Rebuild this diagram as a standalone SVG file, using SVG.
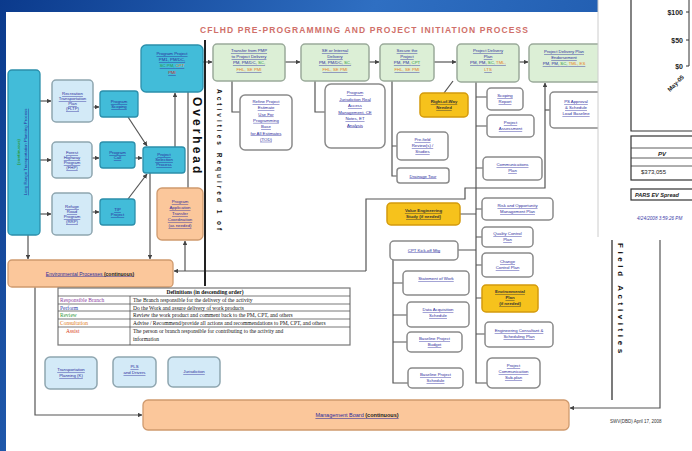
<svg xmlns="http://www.w3.org/2000/svg" width="692" height="451" viewBox="0 0 692 451">
<defs>
<linearGradient id="bg" x1="0" y1="0" x2="1" y2="0.3">
<stop offset="0" stop-color="#0b3a8c"/>
<stop offset="0.5" stop-color="#2f6fc2"/>
<stop offset="1" stop-color="#1b55a8"/>
</linearGradient>
<marker id="ah" viewBox="0 0 6 6" refX="5.5" refY="3" markerWidth="4" markerHeight="4" orient="auto">
<path d="M0,0 L6,3 L0,6 z" fill="#444"/>
</marker>
<style>
.teal{fill:#42bcd9;stroke:#2b8fab;stroke-width:1.3}
.lblue{fill:#d3eaf7;stroke:#8fa6b0;stroke-width:1.5}
.green{fill:#dcefd6;stroke:#9aaa9a;stroke-width:1.5}
.white{fill:#fff;stroke:#8a8a8a;stroke-width:1.5}
.orange{fill:#fbc79b;stroke:#cf9a6e;stroke-width:1.3}
.yellow{fill:#f6c21c;stroke:#d49b0c;stroke-width:1.5}
.t{font-family:'Liberation Sans',Arial,sans-serif;font-size:4.3px;fill:#2b2b9c;text-anchor:middle;text-decoration:underline}
.td{font-family:'Liberation Sans',Arial,sans-serif;font-size:4.3px;fill:#333;text-anchor:middle;text-decoration:underline;font-weight:bold}
.g{fill:#2f9a3a}.o{fill:#e8801a}.r{fill:#d02a2a}
.c{fill:none;stroke:#555;stroke-width:1.2}
.ca{fill:none;stroke:#555;stroke-width:1.2;marker-end:url(#ah)}
.vt{font-family:'Liberation Sans',Arial,sans-serif;font-weight:bold;fill:#111}
.df{font-family:'Liberation Serif','Times New Roman',serif;font-size:5.5px;fill:#111}
.ch{font-family:'Liberation Sans',Arial,sans-serif;font-weight:bold;fill:#222}
</style>
</defs>

<rect x="0" y="0" width="692" height="451" fill="url(#bg)"/>
<rect x="6" y="12" width="686" height="439" fill="#fff"/>

<text x="364" y="33" font-family="'Liberation Sans',Arial,sans-serif" font-size="8.5" font-weight="bold" fill="#d0706a" text-anchor="middle" textLength="328" lengthAdjust="spacing">CFLHD PRE-PROGRAMMING AND PROJECT INITIATION PROCESS</text>

<g id="connectors">
<path class="ca" d="M40,101 H51"/>
<path class="ca" d="M40,160 H51"/>
<path class="ca" d="M40,214 H51"/>
<path class="ca" d="M93,107 H99"/>
<path class="ca" d="M92,158 H99"/>
<path class="ca" d="M92,212 H99"/>
<path class="ca" d="M128,117 L147,146"/>
<path class="ca" d="M135,158 H142"/>
<path class="ca" d="M128,199 L147,174"/>
<path class="ca" d="M175,147 V93"/>
<path class="c" d="M188,92 V188"/>
<path class="ca" d="M150,173 V259"/>
<path class="ca" d="M28,235 V259"/>
<path class="ca" d="M35,287 V415 H142"/>
<path class="ca" d="M203,62 H212"/>
<path class="ca" d="M285,62 H300"/>
<path class="ca" d="M369,62 H379"/>
<path class="ca" d="M434,62 H456"/>
<path class="ca" d="M519,62 H528"/>
<path class="c" d="M232,81 V112 H240"/>
<path class="c" d="M315,81 V112 H325"/>
<path class="c" d="M392,81 V176 H397 M392,146 H397"/>
<path class="c" d="M453,81 L444,93"/>
<path class="c" d="M476,82 V383 H487 M476,97 H487 M476,126 H487 M476,168 H483 M476,209 H482 M476,237 H482 M476,265 H482 M476,298 H482 M476,334 H485"/>
<path class="c" d="M460,214 H476 M458,250 H476"/>
<path class="c" d="M393,260 V383 H408 M393,283 H403 M393,315 H407 M393,342 H407"/>
<path class="ca" d="M366,271 H174"/>
<path class="ca" d="M185,271 V241"/>
<path class="ca" d="M366,271 V199 H465 V188 H545 V83"/>
<path class="c" d="M545,110 H550"/>
<path class="ca" d="M660,240 V408 H570"/>
<path class="c" d="M612,240 V400" style="stroke:#222"/>
<path d="M205,40 V286" stroke="#222" stroke-width="2" fill="none"/>
</g>

<g id="n-left">
<rect class="teal" x="8" y="70" width="32" height="165" rx="4"/>
<text class="t" transform="translate(27,152) rotate(-90)">Long Range Transportation Planning Process</text>
<text class="t g" transform="translate(20,152) rotate(-90)" style="text-decoration:none;font-weight:bold">(continuous)</text>
</g>
<g id="n-a"><rect class="lblue" x="52" y="80" width="41" height="42" rx="4"/>
<text class="t" x="72.5" y="95">Recreation<tspan x="72.5" dy="5">Transportation</tspan><tspan x="72.5" dy="5">Plan</tspan><tspan x="72.5" dy="5">(FLTP)</tspan></text></g>
<g id="n-b"><rect class="lblue" x="52" y="142" width="40" height="36" rx="4"/>
<text class="t" x="72" y="154">Forest<tspan x="72" dy="5">Highway</tspan><tspan x="72" dy="5">Program</tspan><tspan x="72" dy="5">(FHP)</tspan></text></g>
<g id="n-c"><rect class="lblue" x="52" y="193" width="40" height="42" rx="4"/>
<text class="t" x="72" y="208">Refuge<tspan x="72" dy="5">Road</tspan><tspan x="72" dy="5">Program</tspan><tspan x="72" dy="5">(RRP)</tspan></text></g>
<g id="n-d"><rect class="teal" x="100" y="91" width="38" height="26" rx="3"/>
<text class="t" x="119" y="103">Program<tspan x="119" dy="5">Scoping</tspan></text></g>
<g id="n-e"><rect class="teal" x="100" y="142" width="35" height="26" rx="3"/>
<text class="t" x="117.5" y="154">Program<tspan x="117.5" dy="5">Call</tspan></text></g>
<g id="n-f"><rect class="teal" x="100" y="199" width="35" height="26" rx="3"/>
<text class="t" x="117.5" y="211">TIP<tspan x="117.5" dy="5">Project</tspan></text></g>
<g id="n-g"><rect class="teal" x="143" y="147" width="42" height="26" rx="3"/>
<text class="t" x="164" y="156">Project<tspan x="164" dy="5">Selection</tspan><tspan x="164" dy="5">Process</tspan></text></g>
<g id="n-h"><rect class="teal" x="141" y="45" width="62" height="47" rx="5"/>
<text class="t" x="172" y="55">Program Project<tspan x="172" dy="6" style="text-decoration:none">PM1, PM/DC,</tspan><tspan x="172" dy="6" class="g" style="text-decoration:none">SC PM, <tspan class="o">CPT</tspan></tspan><tspan x="172" dy="7" class="r" style="text-decoration:none">PMI</tspan></text></g>
<g id="n-i"><rect class="orange" x="157" y="188" width="46" height="52" rx="5"/>
<text class="t" x="180" y="203">Program<tspan x="180" dy="6">Application</tspan><tspan x="180" dy="6">Transfer</tspan><tspan x="180" dy="6">Coordination</tspan><tspan x="180" dy="6">(as needed)</tspan></text></g>

<g id="n-j"><rect class="green" x="213" y="44" width="72" height="37" rx="4"/>
<text class="t" x="249" y="52">Transfer from PMP<tspan x="249" dy="6">to Project Delivery</tspan><tspan x="249" dy="6" style="text-decoration:none">PM, PM/DC, <tspan class="g">SC,</tspan></tspan><tspan x="249" dy="7" class="o" style="text-decoration:none">FHL, SE PMI</tspan></text></g>
<g id="n-k"><rect class="green" x="301" y="44" width="68" height="37" rx="4"/>
<text class="t" x="335" y="52">SE or Internal<tspan x="335" dy="6">Delivery</tspan><tspan x="335" dy="6" style="text-decoration:none">PM, PM/DC, <tspan class="g">SC,</tspan></tspan><tspan x="335" dy="7" class="o" style="text-decoration:none">FHL, SE PMI</tspan></text></g>
<g id="n-l"><rect class="green" x="380" y="44" width="54" height="37" rx="4"/>
<text class="t" x="407" y="52">Secure the<tspan x="407" dy="6">Project</tspan><tspan x="407" dy="6" style="text-decoration:none">PM, PM, <tspan class="g">CPT</tspan></tspan><tspan x="407" dy="7" class="o" style="text-decoration:none">FHL, SE PMI</tspan></text></g>
<g id="n-m"><rect class="green" x="457" y="44" width="62" height="38" rx="4"/>
<text class="t" x="488" y="52">Project Delivery<tspan x="488" dy="6">Plan</tspan><tspan x="488" dy="6" style="text-decoration:none">PM, PM, <tspan class="g">SC,</tspan> <tspan class="o">TML,</tspan></tspan><tspan x="488" dy="7" class="o" style="text-decoration:none">LTS</tspan></text></g>
<g id="n-n"><rect class="green" x="529" y="44" width="75" height="38" rx="4"/>
<text class="t" x="564" y="53">Project Delivery Plan<tspan x="564" dy="6">Endorsement</tspan><tspan x="564" dy="6" style="text-decoration:none">PM, PM, <tspan class="g">SC,</tspan> <tspan class="o">TML, ES</tspan></tspan></text></g>

<g id="n-j1"><rect class="white" x="240" y="95" width="52" height="55" rx="5"/>
<text class="t" x="266" y="103">Refine Project<tspan x="266" dy="6.3">Estimate</tspan><tspan x="266" dy="6.3">Use For</tspan><tspan x="266" dy="6.3">Programming</tspan><tspan x="266" dy="6.3">Base</tspan><tspan x="266" dy="6.3">for All Estimates</tspan><tspan x="266" dy="6.3">(TOD)</tspan></text></g>
<g id="n-k1"><rect class="white" x="325" y="84" width="60" height="64" rx="6"/>
<text class="t" x="355" y="94">Program<tspan x="355" dy="6.5">Jurisdiction Real</tspan><tspan x="355" dy="6.5">Access</tspan><tspan x="355" dy="6.5">Management, CE</tspan><tspan x="355" dy="6.5">Notes, ET</tspan><tspan x="355" dy="6.5">Analysis</tspan></text></g>
<g id="n-l1"><rect class="white" x="397" y="132" width="51" height="28" rx="4"/>
<text class="t" x="422.5" y="141">Pre-field<tspan x="422.5" dy="6">Review(s) /</tspan><tspan x="422.5" dy="6">Studies</tspan></text></g>
<g id="n-l2"><rect class="white" x="397" y="168" width="52" height="15" rx="3"/>
<text class="t" x="423" y="177.5">Drainage Tour</text></g>
<g id="n-y1"><rect class="yellow" x="420" y="93" width="48" height="24" rx="4"/>
<text class="td" x="444" y="103">Right-of-Way<tspan x="444" dy="6">Needed</tspan></text></g>
<g id="n-m1"><rect class="white" x="487" y="88" width="36" height="22" rx="4"/>
<text class="t" x="505" y="97">Scoping<tspan x="505" dy="6">Report</tspan></text></g>
<g id="n-m2"><rect class="white" x="487" y="115" width="47" height="22" rx="4"/>
<text class="t" x="510.5" y="124">Project<tspan x="510.5" dy="6">Assessment</tspan></text></g>
<g id="n-m3"><rect class="white" x="483" y="157" width="59" height="23" rx="4"/>
<text class="t" x="512.5" y="166">Communications<tspan x="512.5" dy="6">Plan</tspan></text></g>
<g id="n-m4"><rect class="white" x="482" y="198" width="71" height="22" rx="4"/>
<text class="t" x="517.5" y="207">Risk and Opportunity<tspan x="517.5" dy="6">Management Plan</tspan></text></g>
<g id="n-m5"><rect class="white" x="482" y="227" width="51" height="20" rx="4"/>
<text class="t" x="507.5" y="235">Quality Control<tspan x="507.5" dy="6">Plan</tspan></text></g>
<g id="n-m6"><rect class="white" x="482" y="253" width="51" height="24" rx="4"/>
<text class="t" x="507.5" y="263">Change<tspan x="507.5" dy="6">Control Plan</tspan></text></g>
<g id="n-m7"><rect class="yellow" x="482" y="285" width="56" height="27" rx="4"/>
<text class="td" x="510" y="293">Environmental<tspan x="510" dy="6">Plan</tspan><tspan x="510" dy="6">(if needed)</tspan></text></g>
<g id="n-m8"><rect class="white" x="485" y="322" width="68" height="25" rx="4"/>
<text class="t" x="519" y="332">Engineering Consultant &amp;<tspan x="519" dy="6">Scheduling Plan</tspan></text></g>
<g id="n-m9"><rect class="white" x="487" y="358" width="53" height="30" rx="5"/>
<text class="t" x="513.5" y="367">Project<tspan x="513.5" dy="6">Communication</tspan><tspan x="513.5" dy="6">Sub-plan</tspan></text></g>
<g id="n-n1"><rect class="white" x="550" y="92" width="56" height="36" rx="4"/>
<text class="t" x="576" y="103">PS Approval<tspan x="576" dy="6">&amp; Schedule</tspan><tspan x="576" dy="6">Load Baseline</tspan></text></g>
<g id="n-y2"><rect class="yellow" x="387" y="203" width="73" height="22" rx="4"/>
<text class="td" x="423.5" y="212">Value Engineering<tspan x="423.5" dy="6">Study (if needed)</tspan></text></g>
<g id="n-p1"><rect class="white" x="390" y="241" width="68" height="19" rx="4"/>
<text class="t" x="424" y="251.5">CPT Kick-off Mtg</text></g>
<g id="n-p2"><rect class="white" x="403" y="271" width="66" height="24" rx="4"/>
<text class="t" x="436" y="280">Statement of Work</text></g>
<g id="n-p3"><rect class="white" x="407" y="302" width="62" height="25" rx="4"/>
<text class="t" x="438" y="311">Data Acquisition<tspan x="438" dy="6">Schedule</tspan></text></g>
<g id="n-p4"><rect class="white" x="407" y="332" width="55" height="20" rx="4"/>
<text class="t" x="434.5" y="340">Baseline Project<tspan x="434.5" dy="6">Budget</tspan></text></g>
<g id="n-p5"><rect class="white" x="408" y="368" width="55" height="20" rx="4"/>
<text class="t" x="435.5" y="376">Baseline Project<tspan x="435.5" dy="6">Schedule</tspan></text></g>

<g id="n-env"><rect class="orange" x="8" y="260" width="165" height="27" rx="4"/>
<text class="t" x="90" y="275.5" style="font-size:5px">Environmental Processes <tspan style="fill:#222;text-decoration:none;font-weight:bold">(continuous)</tspan></text></g>
<g id="n-mgmt"><rect class="orange" x="143" y="400" width="426" height="30" rx="5"/>
<text class="t" x="357" y="417" style="font-size:5.5px">Management Board <tspan style="fill:#222;text-decoration:none;font-weight:bold">(continuous)</tspan></text></g>
<g id="n-b1"><rect class="lblue" x="45" y="357" width="52" height="32" rx="5"/>
<text class="t" x="71" y="371">Transportation<tspan x="71" dy="6">Planning (K)</tspan></text></g>
<g id="n-b2"><rect class="lblue" x="113" y="357" width="43" height="30" rx="5"/>
<text class="t" x="134.5" y="368">PLS<tspan x="134.5" dy="6">and Drivers</tspan></text></g>
<g id="n-b3"><rect class="lblue" x="168" y="357" width="52" height="30" rx="5"/>
<text class="t" x="194" y="373">Jurisdiction</text></g>

<g id="labels">
<text class="vt" font-size="12" letter-spacing="3" transform="translate(193,97) rotate(90)">Overhead</text>
<text class="vt" font-size="6.5" letter-spacing="3" transform="translate(217,89) rotate(90)">Activities Required 1 of</text>
<text class="vt" font-size="8" letter-spacing="3.6" transform="translate(618,243) rotate(90)">Field Activities</text>
<text x="610" y="423" font-family="'Liberation Sans',Arial,sans-serif" font-size="4.5" fill="#333">SWV(DBD) April 17, 2008</text>
</g>

<g id="definitions">
<rect x="58" y="288" width="292" height="57" fill="#fff" stroke="#777" stroke-width="1.2"/>
<path d="M58,296 H350 M58,304 H350 M58,311 H350 M58,319 H350 M58,327 H350 M130,296 V345" stroke="#555" stroke-width="0.8" fill="none"/>
<text class="df" x="205" y="294" text-anchor="middle" font-weight="bold">Definitions (in descending order)</text>
<text class="df" x="60" y="302" style="fill:#8a3aa0">Responsible Branch</text>
<text class="df" x="60" y="309.5" style="fill:#2a3aa8">Perform</text>
<text class="df" x="60" y="317" style="fill:#2f9a3a">Review</text>
<text class="df" x="60" y="325" style="fill:#e07820">Consultation</text>
<text class="df" x="66" y="333" style="fill:#d84020">Assist</text>
<text class="df" x="133" y="302">The Branch responsible for the delivery of the activity</text>
<text class="df" x="133" y="309.5">Do the Work and assure delivery of work products</text>
<text class="df" x="133" y="317">Review the work product and comment back to the PM, CPT, and others</text>
<text class="df" x="133" y="325">Advise / Recommend/provide all actions and recommendations to PM, CPT, and others</text>
<text class="df" x="133" y="333">The person or branch responsible for contributing to the activity and</text>
<text class="df" x="133" y="341">information</text>
</g>

<g id="chart-page">
<rect x="598" y="0" width="94" height="237" fill="#fff"/>
<path d="M598,0 V237" stroke="#ccc" stroke-width="1"/>
<path d="M631,0 V131 H692" stroke="#333" stroke-width="1.2" fill="none"/>
<path d="M689,0 V66 M686,12 H689 M686,40 H689 M686,66 H689" stroke="#333" stroke-width="1" fill="none"/>
<text class="ch" font-size="7" x="683" y="15" text-anchor="end">$100</text>
<text class="ch" font-size="7" x="683" y="43" text-anchor="end">$50</text>
<text class="ch" font-size="7" x="683" y="69" text-anchor="end">$0</text>
<text class="ch" font-size="6" transform="translate(670,92) rotate(-45)">May-05</text>
<rect x="631" y="136" width="70" height="44" fill="#fff" stroke="#333" stroke-width="1.2"/>
<path d="M631,148 H692 M631,158 H692 M631,166 H692" stroke="#333" stroke-width="0.8"/>
<text x="662" y="156" font-family="'Liberation Sans',Arial,sans-serif" font-size="6" font-style="italic" font-weight="bold" fill="#222" text-anchor="middle">PV</text>
<text x="641" y="174" font-family="'Liberation Sans',Arial,sans-serif" font-size="6" fill="#222">$373,055</text>
<rect x="631" y="189" width="70" height="11" fill="#fff" stroke="#333" stroke-width="1.2"/>
<text x="635" y="197" font-family="'Liberation Sans',Arial,sans-serif" font-size="5.5" font-style="italic" font-weight="bold" fill="#222">PARS EV Spread</text>
<text x="637" y="220" font-family="'Liberation Sans',Arial,sans-serif" font-size="4.6" font-style="italic" fill="#3a3aa8">4/24/2008 3:59:26 PM</text>
</g>
</svg>
